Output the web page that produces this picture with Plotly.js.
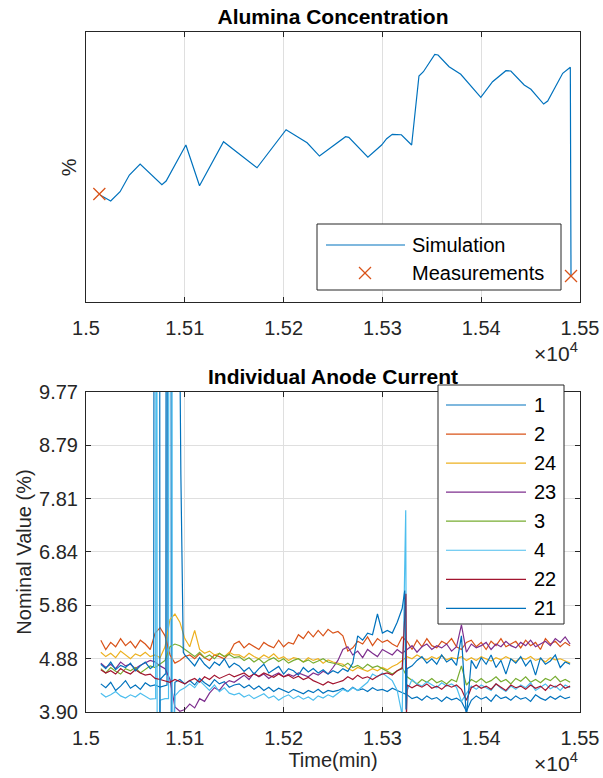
<!DOCTYPE html>
<html>
<head>
<meta charset="utf-8">
<script src="https://cdn.plot.ly/plotly-3.0.1.min.js"></script>
<style>html,body{margin:0;padding:0;background:#fff;}#chart{width:603px;height:778px;}</style>
</head>
<body>
<div id="chart"></div>
<script>
// ---------- Top panel: Alumina Concentration ----------
const simTime = [15014.2, 15025.0, 15034.5, 15043.9, 15054.8, 15076.8, 15081.1, 15101.1, 15114.9, 15119.7,
  15139.2, 15173.1, 15202.5, 15223.8, 15236.3, 15262.7, 15266.0, 15285.3, 15299.2, 15304.3,
  15310.0, 15319.2, 15329.6, 15337.0, 15341.5, 15353.0, 15356.3, 15367.5, 15379.3, 15399.6,
  15411.5, 15425.0, 15430.0, 15443.5, 15450.3, 15463.2, 15467.3, 15482.5, 15490.2, 15490.9];
const simValue = [2.159, 2.091, 2.197, 2.386, 2.511, 2.276, 2.318, 2.727, 2.265, 2.367,
  2.765, 2.469, 2.901, 2.753, 2.602, 2.822, 2.815, 2.588, 2.727, 2.799,
  2.849, 2.844, 2.727, 3.511, 3.560, 3.758, 3.750, 3.617, 3.531, 3.269,
  3.447, 3.572, 3.568, 3.409, 3.360, 3.193, 3.227, 3.542, 3.610, 1.231];
const measTime = [15013.5, 15490.9];
const measValue = [2.170, 1.239];

// ---------- Bottom panel: Individual Anode Current ----------
const timeMin = [15015,15020,15025,15030,15035,15040,15045,15050,15055,15060,
  15065,15070,15075,15080,15085,15090,15095,15100,15105,15110,
  15115,15120,15125,15130,15135,15140,15145,15150,15155,15160,
  15165,15170,15175,15180,15185,15190,15195,15200,15205,15210,
  15215,15220,15225,15230,15235,15240,15245,15250,15255,15260,
  15265,15270,15275,15280,15285,15290,15295,15300,15305,15310,
  15315,15320,15325,15330,15335,15340,15345,15350,15355,15360,
  15365,15370,15375,15380,15385,15390,15395,15400,15405,15410,
  15415,15420,15425,15430,15435,15440,15445,15450,15455,15460,
  15465,15470,15475,15480,15485,15490];

const anode1 = [4.42,4.35,4.45,4.30,4.38,4.48,4.34,4.40,4.32,4.44,
  4.38,4.40,4.36,4.38,15,4.45,4.50,4.42,4.48,4.40,
  4.52,4.44,4.38,4.50,4.42,4.46,4.36,4.40,4.42,4.35,
  4.40,4.32,4.38,4.30,4.36,4.28,4.34,4.30,4.26,4.32,
  4.28,4.24,4.30,4.26,4.32,4.25,4.30,4.28,4.30,4.34,
  4.28,4.36,4.30,4.33,4.28,4.35,4.30,4.32,4.28,4.34,
  4.30,4.26,4.22,4.15,4.18,4.12,4.20,4.14,4.17,4.10,
  4.18,4.13,4.16,4.10,3.92,4.12,4.20,4.14,4.18,4.10,
  4.22,4.15,4.18,4.12,4.20,4.14,4.17,4.10,4.22,4.16,
  4.12,4.19,4.14,4.20,4.15,4.18];
const anode2 = [5.22,5.05,5.18,5.10,5.25,5.12,5.20,5.08,5.22,5.15,
  5.05,5.35,5.45,5.30,4.95,4.80,4.85,4.92,4.95,4.88,
  4.97,4.90,4.85,4.95,4.92,4.88,4.98,5.15,5.20,5.08,
  5.16,5.10,5.05,5.18,5.12,5.08,5.22,5.10,5.18,5.15,
  5.32,5.25,5.38,5.28,5.40,5.30,5.42,5.35,5.38,5.30,
  5.02,5.08,5.20,5.15,5.28,5.12,5.25,5.18,5.22,5.15,
  5.10,5.28,5.20,5.05,5.22,5.10,5.25,5.12,5.08,5.20,
  5.15,5.25,5.10,5.05,5.18,5.22,5.10,5.18,5.05,5.20,
  5.12,5.25,5.10,5.15,5.20,5.08,5.22,5.12,5.18,5.05,
  5.25,5.15,5.20,5.10,5.18,5.12];
const anode24 = [5.00,4.92,4.98,4.90,5.02,4.95,4.88,4.97,4.93,5.00,
  4.92,4.95,4.90,5.10,5.60,5.70,5.55,5.25,5.10,5.40,
  5.05,4.98,5.02,4.95,4.98,4.92,5.00,4.95,4.95,4.90,
  4.98,4.92,4.88,4.95,4.90,4.97,4.88,4.92,4.85,4.90,
  4.88,4.82,4.90,4.85,4.88,4.80,4.86,4.82,4.80,4.78,
  4.70,4.66,4.72,4.68,4.65,4.70,4.66,4.72,4.68,4.74,
  4.78,4.85,4.92,4.88,4.95,4.90,4.86,4.92,4.88,4.94,
  4.86,4.90,4.88,4.92,4.85,4.90,4.85,4.92,4.88,4.84,
  4.90,4.86,4.92,4.88,4.83,4.90,4.87,4.92,4.85,4.88,
  4.82,4.90,4.86,4.88,4.84,4.80];
const anode23 = [4.80,4.72,4.78,4.70,4.82,4.75,4.78,4.70,4.76,4.80,
  4.85,4.82,4.75,4.70,4.50,4.00,3.92,3.95,4.05,3.98,
  4.15,4.10,4.25,4.35,4.30,4.42,4.48,4.45,4.52,4.58,
  4.50,4.62,4.55,4.60,4.52,4.58,4.62,4.55,4.60,4.56,
  4.62,4.58,4.55,4.62,4.58,4.65,4.60,4.72,4.85,5.05,
  5.10,4.95,5.02,4.90,5.05,4.98,4.92,5.05,5.00,4.95,
  5.05,4.98,5.05,5.12,5.00,5.10,5.15,5.05,5.12,5.08,
  5.15,5.02,5.10,5.50,5.00,5.15,5.08,5.12,5.18,5.05,
  5.15,5.10,5.20,5.12,5.08,5.18,5.12,5.22,5.10,5.15,
  5.20,5.12,5.25,5.18,5.28,5.15];
const anode3 = [4.70,4.62,4.72,4.65,4.60,4.70,4.66,4.72,4.62,4.68,
  4.75,4.72,4.78,4.85,5.10,5.15,5.12,5.05,4.98,4.92,
  5.00,4.90,4.95,4.88,4.98,4.92,4.96,4.90,4.92,4.85,
  4.90,4.82,4.88,4.80,4.86,4.90,4.83,4.88,4.80,4.85,
  4.88,4.82,4.86,4.80,4.84,4.88,4.82,4.80,4.78,4.74,
  4.80,4.72,4.76,4.70,4.78,4.72,4.75,4.70,4.65,4.60,
  4.66,4.72,4.55,4.48,4.42,4.50,4.45,4.52,4.44,4.48,
  4.42,4.50,4.46,4.75,4.40,4.50,4.45,4.52,4.44,4.48,
  4.55,4.46,4.50,4.42,4.52,4.47,4.55,4.45,4.50,4.44,
  4.52,4.48,4.56,4.46,4.50,4.45];
const anode4 = [4.25,4.18,4.22,4.28,4.20,4.16,4.22,4.18,4.25,4.20,
  4.14,4.15,4.12,4.15,15,4.20,4.30,4.35,4.42,4.35,
  4.48,4.38,4.30,4.40,4.28,4.35,4.25,4.22,4.25,4.18,
  4.22,4.15,4.20,4.24,4.16,4.20,4.12,4.18,4.22,4.15,
  4.20,4.14,4.18,4.12,4.20,4.16,4.22,4.18,4.25,4.32,
  4.28,4.35,4.30,4.38,4.45,4.60,4.55,4.62,4.55,4.48,
  4.30,3.85,4.30,4.50,4.42,4.38,4.46,4.40,4.35,4.44,
  4.38,4.42,4.36,4.10,4.25,4.38,4.32,4.40,4.35,4.30,
  4.42,4.34,4.28,4.38,4.32,4.40,4.35,4.44,4.30,4.36,
  4.42,4.33,4.38,4.30,4.40,4.35];
const anode22 = [4.68,4.62,4.66,4.60,4.70,4.64,4.60,4.68,4.62,4.58,
  4.60,4.52,4.50,4.48,4.45,4.50,4.46,4.42,4.48,4.52,
  4.45,4.55,4.50,4.58,4.52,4.56,4.60,4.55,4.58,4.62,
  4.55,4.60,4.56,4.62,4.58,4.54,4.60,4.55,4.58,4.52,
  4.56,4.50,4.54,4.48,4.44,4.40,4.46,4.42,4.45,4.48,
  4.55,4.50,4.58,4.52,4.55,4.50,4.56,4.60,4.62,4.58,
  4.66,4.70,4.40,4.35,4.40,4.36,4.42,4.34,4.38,4.32,
  4.40,4.36,4.40,4.32,4.12,4.35,4.40,4.34,4.38,4.32,
  4.42,4.36,4.30,4.40,4.35,4.38,4.32,4.40,4.34,4.38,
  4.30,4.40,4.36,4.42,4.34,4.38];
const anode21 = [4.78,4.70,4.82,4.68,4.76,4.72,4.80,4.66,4.75,4.82,
  4.70,15,4.50,4.60,15,15,10.5,4.95,4.85,4.75,
  4.90,4.78,4.70,4.82,4.76,4.88,4.72,4.80,4.75,4.65,
  4.72,4.60,4.70,4.78,4.62,4.68,4.74,4.60,4.70,4.66,
  4.58,4.72,4.64,4.70,4.62,4.68,4.60,4.66,4.62,4.70,
  4.65,4.80,5.30,5.22,5.35,5.32,5.70,5.35,5.40,5.35,
  5.55,5.80,4.70,4.75,4.85,4.92,4.80,4.88,4.78,4.95,
  4.82,4.88,4.76,5.30,3.80,4.85,4.70,4.90,4.78,4.95,
  4.72,4.85,4.60,4.88,4.80,4.92,4.75,4.86,4.58,4.90,
  4.78,4.84,4.95,4.72,4.82,4.78];

// short transient samples read between the regular samples (spikes)
const spike1Time = [15082.0, 15082.4, 15086.0, 15086.4];
const spike1Value = [4.40, 15, 15, 1.0];
const spike4Time = [15070.5, 15070.9, 15071.7, 15072.1, 15083.5, 15083.9, 15087.0, 15087.4, 15323.6, 15324.3];
const spike4Value = [4.15, 15, 15, 1.0, 4.15, 15, 15, 1.0, 7.60, 3.90];
const spike22Time = [15323.8, 15324.4];
const spike22Value = [6.07, 3.85];
const spike21Time = [15068.5, 15069.0, 15074.6, 15074.8, 15080.8, 15081.2, 15094.0, 15096.0, 15098.5, 15322.6, 15323.9];
const spike21Value = [4.75, 15, 15, 1.0, 4.60, 15, 15, 8.27, 5.00, 6.13, 3.95];

const seriesNames = ['1', '2', '24', '23', '3', '4', '22', '21'];
const seriesColors = ['#0072BD', '#D95319', '#EDB120', '#7E2F8E', '#77AC30', '#4DBEEE', '#A2142F', '#0072BD'];

const xTickValues = [15000, 15100, 15200, 15300, 15400, 15500];
const xTickLabels = ['1.5', '1.51', '1.52', '1.53', '1.54', '1.55'];
const yTickLabels = ['3.90', '4.88', '5.86', '6.84', '7.81', '8.79', '9.77'];

// ---------- build ----------
const FONT = 'Liberation Sans, Arial, Helvetica, sans-serif';
const W = 603, H = 778;
const px = v => v / W;
const py = v => 1 - v / H;

function merge(t, v, st, sv) {
  const pts = t.map((x, i) => [x, v[i]]);
  if (st) st.forEach((x, i) => pts.push([x, sv[i]]));
  pts.sort((a, b) => a[0] - b[0]);
  return {x: pts.map(p => p[0]), y: pts.map(p => p[1])};
}

const seriesData = [
  merge(timeMin, anode1, spike1Time, spike1Value),
  merge(timeMin, anode2),
  merge(timeMin, anode24),
  merge(timeMin, anode23),
  merge(timeMin, anode3),
  merge(timeMin, anode4, spike4Time, spike4Value),
  merge(timeMin, anode22, spike22Time, spike22Value),
  merge(timeMin, anode21, spike21Time, spike21Value)
];

const traces = [
  {x: simTime, y: simValue, type: 'scatter', mode: 'lines', name: 'Simulation',
   line: {color: '#0072BD', width: 1.2}, xaxis: 'x', yaxis: 'y', showlegend: false},
  {x: measTime, y: measValue, type: 'scatter', mode: 'markers', name: 'Measurements',
   marker: {symbol: 'x-thin-open', size: 12, color: '#D95319', line: {color: '#D95319', width: 1.3}},
   xaxis: 'x', yaxis: 'y', showlegend: false, cliponaxis: false}
];
seriesData.forEach((d, k) => {
  traces.push({x: d.x, y: d.y, type: 'scatter', mode: 'lines', name: seriesNames[k],
    line: {color: seriesColors[k], width: 1.2}, xaxis: 'x2', yaxis: 'y2', showlegend: false});
});

const axisCommon = {
  showline: true, linecolor: '#262626', linewidth: 1, mirror: 'ticks',
  ticks: 'inside', ticklen: 5, tickcolor: '#262626', tickwidth: 1,
  gridcolor: '#dfdfdf', gridwidth: 1, zeroline: false,
  tickfont: {family: FONT, size: 20, color: '#262626'}, automargin: false
};
const xDomain = [px(86), px(580)];

const layout = {
  width: W, height: H, margin: {l: 0, r: 0, t: 0, b: 0},
  paper_bgcolor: '#fff', plot_bgcolor: '#fff',
  font: {family: FONT, color: '#262626'},
  title: {text: '<b>Alumina Concentration</b>', font: {family: FONT, size: 21, color: '#000'},
    x: px(333), xanchor: 'center', xref: 'paper', y: py(17), yanchor: 'middle', yref: 'paper'},
  xaxis: Object.assign({}, axisCommon, {domain: xDomain, anchor: 'y', range: [15000, 15500],
    tickmode: 'array', tickvals: xTickValues, ticktext: xTickLabels, showgrid: true, ticklabelstandoff: 8}),
  yaxis: Object.assign({}, axisCommon, {domain: [py(302.3), py(32.3)], anchor: 'x', range: [0.94, 4.008],
    showticklabels: false, ticks: '', showgrid: false, mirror: true,
    title: {text: '%', font: {family: FONT, size: 20, color: '#262626'}, standoff: 2}}),
  xaxis2: Object.assign({}, axisCommon, {domain: xDomain, anchor: 'y2', range: [15000, 15500],
    tickmode: 'array', tickvals: xTickValues, ticktext: xTickLabels, showgrid: true, ticklabelstandoff: 8,
    title: {text: 'Time(min)', font: {family: FONT, size: 20, color: '#262626'}, standoff: 4}}),
  yaxis2: Object.assign({}, axisCommon, {domain: [py(712.3), py(391.7)], anchor: 'x2', range: [3.90, 9.77],
    tickmode: 'array', tickvals: yTickLabels.map(Number), ticktext: yTickLabels, showgrid: true, ticklabelstandoff: 3,
    title: {text: 'Nominal Value (%)', font: {family: FONT, size: 20, color: '#262626'}, standoff: 2}}),
  shapes: [],
  annotations: [
    {text: '<b>Individual Anode Current</b>', x: px(333), y: py(376), xref: 'paper', yref: 'paper',
     xanchor: 'center', yanchor: 'middle', showarrow: false, font: {family: FONT, size: 21, color: '#000'}},
    {text: '×10<sup>4</sup>', x: px(580), y: py(352), xref: 'paper', yref: 'paper',
     xanchor: 'right', yanchor: 'middle', showarrow: false, font: {family: FONT, size: 21, color: '#262626'}},
    {text: '×10<sup>4</sup>', x: px(580), y: py(762), xref: 'paper', yref: 'paper',
     xanchor: 'right', yanchor: 'middle', showarrow: false, font: {family: FONT, size: 21, color: '#262626'}}
  ]
};

// ---- legend boxes (drawn as shapes + text) ----
function rect(x0, y0, x1, y1) {
  layout.shapes.push({type: 'rect', xref: 'paper', yref: 'paper', x0: px(x0), x1: px(x1), y0: py(y1), y1: py(y0),
    line: {color: '#262626', width: 1}, fillcolor: '#fff', layer: 'above'});
}
function seg(x0, y0, x1, y1, color) {
  layout.shapes.push({type: 'line', xref: 'paper', yref: 'paper', x0: px(x0), x1: px(x1), y0: py(y0), y1: py(y1),
    line: {color: color, width: 1.2}, layer: 'above'});
}
function label(text, x, y) {
  layout.annotations.push({text: text, x: px(x), y: py(y), xref: 'paper', yref: 'paper', xanchor: 'left',
    yanchor: 'middle', showarrow: false, font: {family: FONT, size: 20, color: '#000'}});
}
// top legend
rect(317, 224, 561, 290);
seg(326, 245, 405, 245, '#0072BD');
label('Simulation', 410, 245);
seg(359, 267, 371, 279, '#D95319');
seg(359, 279, 371, 267, '#D95319');
label('Measurements', 410, 273);
// bottom legend
rect(438, 385, 564, 624);
seriesNames.forEach((n, k) => {
  const yc = 405 + k * 29.05;
  seg(446, yc, 526, yc, seriesColors[k]);
  label(n, 532, yc);
});

Plotly.newPlot('chart', traces, layout, {staticPlot: true, displayModeBar: false});
</script>
</body>
</html>
